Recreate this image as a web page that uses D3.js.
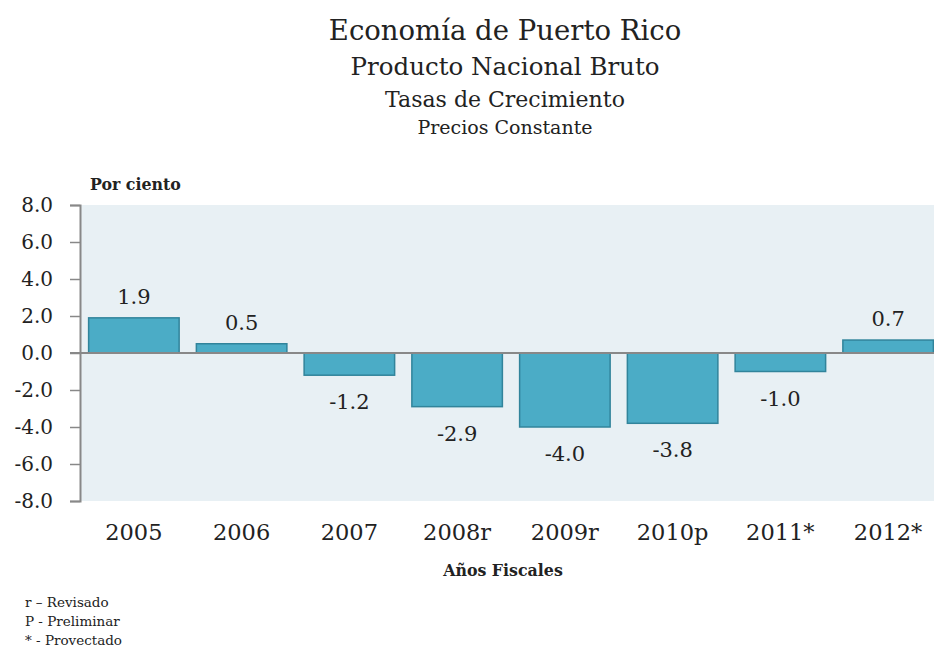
<!DOCTYPE html>
<html><head><meta charset="utf-8">
<script src="https://cdn.jsdelivr.net/npm/d3@7"></script>
<style>body{margin:0;background:#fff;} text{font-family:"DejaVu Serif",serif;fill:#222;}</style>
</head><body>
<svg id="c" width="934" height="647"></svg>
<script>
const categories = ["2005","2006","2007","2008r","2009r","2010p","2011*","2012*"];
const values = [1.9, 0.5, -1.2, -2.9, -4.0, -3.8, -1.0, 0.7];
const yTicks = [8,6,4,2,0,-2,-4,-6,-8];
const titles = ["Economía de Puerto Rico","Producto Nacional Bruto","Tasas de Crecimiento","Precios Constante"];
const notes = ["r – Revisado","P - Preliminar","* -  Provectado"];

const svg = d3.select("#c");
const L=80, R=942, T=205, B=501;
const x = d3.scaleBand().domain(categories).range([L,R]).paddingInner(0.16).paddingOuter(0.08);
const y = d3.scaleLinear().domain([-8,8]).range([B,T]);
const fmt = d => d3.format(".1f")(d).replace("−","-");

svg.append("rect").attr("x",L).attr("y",T).attr("width",934-L).attr("height",B-T).attr("fill","#e8f0f4");

const tSizes=[27.5,24.5,22,19], tY=[40,75,107,134];
titles.forEach((t,i)=>svg.append("text").attr("x",505).attr("y",tY[i]).attr("text-anchor","middle")
  .attr("font-size",tSizes[i]).text(t));

svg.selectAll(".bar").data(values).join("rect")
  .attr("x",(d,i)=>x(categories[i])).attr("width",x.bandwidth())
  .attr("y",d=>y(Math.max(0,d))).attr("height",d=>Math.abs(y(d)-y(0)))
  .attr("fill","#4bacc6").attr("stroke","#31849b").attr("stroke-width",1.5);

const ya = svg.append("g").attr("transform",`translate(${L},0)`)
  .call(d3.axisLeft(y).tickValues(yTicks).tickFormat(fmt).tickSize(10).tickPadding(17));
ya.select(".domain").attr("stroke","#888").attr("stroke-width",2);
ya.selectAll(".tick line").attr("stroke","#888").attr("stroke-width",1.5);
ya.selectAll(".tick text").attr("font-size",20).style("font-family","DejaVu Serif").attr("fill","#222");

svg.append("line").attr("x1",L-10).attr("x2",934).attr("y1",y(0)).attr("y2",y(0)).attr("stroke","#888").attr("stroke-width",2);

svg.selectAll(".lab").data(values).join("text")
  .attr("x",(d,i)=>x(categories[i])+x.bandwidth()/2)
  .attr("y",d=>d>=0? y(d)-14 : y(d)+34)
  .attr("text-anchor","middle").attr("font-size",21)
  .text(fmt);

svg.selectAll(".cat").data(categories).join("text")
  .attr("x",d=>x(d)+x.bandwidth()/2).attr("y",540).attr("text-anchor","middle")
  .attr("font-size",22.5).text(d=>d);

svg.append("text").attr("x",90).attr("y",190).attr("font-size",15.8).attr("font-weight","bold").text("Por ciento");
svg.append("text").attr("x",503).attr("y",576).attr("text-anchor","middle").attr("font-size",15.8).attr("font-weight","bold").text("Años Fiscales");

notes.forEach((n,i)=>svg.append("text").attr("x",25).attr("y",607+i*19).attr("font-size",13.5).text(n));
</script>
</body></html>
